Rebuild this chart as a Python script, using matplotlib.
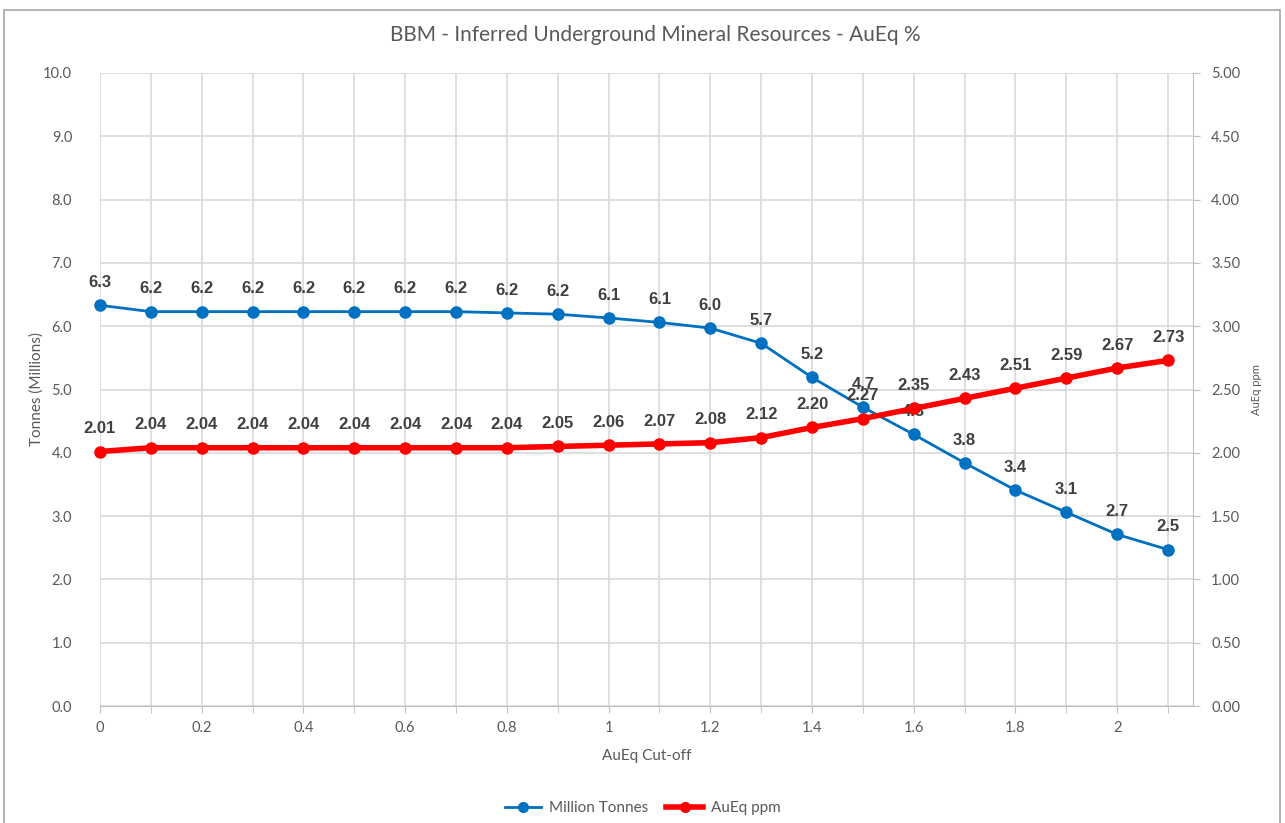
import matplotlib.pyplot as plt
from matplotlib.patches import Rectangle
from matplotlib.ticker import MultipleLocator, FormatStrFormatter
from matplotlib.lines import Line2D

# data
cutoff = [0.0, 0.1, 0.2, 0.3, 0.4, 0.5, 0.6, 0.7, 0.8, 0.9, 1.0,
          1.1, 1.2, 1.3, 1.4, 1.5, 1.6, 1.7, 1.8, 1.9, 2.0, 2.1]
million_tonnes = [6.33, 6.23, 6.23, 6.23, 6.23, 6.23, 6.23, 6.23, 6.21, 6.19, 6.13,
                  6.06, 5.97, 5.73, 5.19, 4.72, 4.29, 3.84, 3.41, 3.06, 2.71, 2.47]
aueq_ppm = [2.01, 2.04, 2.04, 2.04, 2.04, 2.04, 2.04, 2.04, 2.04, 2.05, 2.06,
            2.07, 2.08, 2.12, 2.20, 2.27, 2.35, 2.43, 2.51, 2.59, 2.67, 2.73]

blue = '#0070C0'
red = '#FF0000'
text_col = '#595959'
label_col = '#404040'
grid_col = '#D9D9D9'

plt.rcParams['font.family'] = ['Lato', 'DejaVu Sans']

fig = plt.figure(figsize=(12.85, 8.23), dpi=100)
ax = fig.add_axes([100 / 1285, 1 - 706 / 823, 1093 / 1285, 633 / 823])
ax2 = ax.twinx()

# outer chart border
fig.patches.append(Rectangle((4 / 1285, -0.01), 1276 / 1285, 1 - 10 / 823 + 0.01,
                             transform=fig.transFigure, fill=False,
                             edgecolor='#A6A6A6', linewidth=1.2))

ax.plot(cutoff, million_tonnes, color=blue, lw=2, marker='o', ms=8, zorder=3, clip_on=False)
ax2.plot(cutoff, aueq_ppm, color=red, lw=4, marker='o', ms=8, zorder=3, clip_on=False)

lbl_font = dict(ha='center', va='bottom', fontsize=12, fontweight='bold',
                color=label_col, family=['Liberation Sans', 'DejaVu Sans'])
for x, y in zip(cutoff, million_tonnes):
    ax.annotate(f'{y:.1f}', (x, y), xytext=(0, 11), textcoords='offset points', **lbl_font)
for x, y in zip(cutoff, aueq_ppm):
    ax2.annotate(f'{y:.2f}', (x, y), xytext=(0, 11), textcoords='offset points', **lbl_font)

ax.set_xlim(0, 2.149)
ax.set_ylim(0, 10)
ax2.set_ylim(0, 5)

ax.xaxis.set_minor_locator(MultipleLocator(0.1))
ax.set_xticks([0, 0.2, 0.4, 0.6, 0.8, 1, 1.2, 1.4, 1.6, 1.8, 2])
ax.set_xticklabels(['0', '0.2', '0.4', '0.6', '0.8', '1', '1.2', '1.4', '1.6', '1.8', '2'])
ax.yaxis.set_major_locator(MultipleLocator(1))
ax.yaxis.set_major_formatter(FormatStrFormatter('%.1f'))
ax2.yaxis.set_major_locator(MultipleLocator(0.5))
ax2.yaxis.set_major_formatter(FormatStrFormatter('%.2f'))

ax.grid(True, which='both', color=grid_col, lw=1.2)
ax.set_axisbelow(True)

for a in (ax, ax2):
    for s in a.spines.values():
        s.set_visible(False)
ax.spines['bottom'].set_visible(True)
ax.spines['bottom'].set_color('#BFBFBF')
ax2.spines['right'].set_visible(True)
ax2.spines['right'].set_color('#BFBFBF')

ax.tick_params(axis='x', which='both', length=5, color='#BFBFBF', labelcolor=text_col,
               labelsize=10.5, pad=6)
ax.tick_params(axis='y', length=0, labelcolor=text_col, labelsize=10.5, pad=20)
ax2.tick_params(axis='y', length=5, color='#BFBFBF', labelcolor=text_col, labelsize=10.5, pad=8)

ax.set_xlabel('AuEq Cut-off', color=text_col, fontsize=11, labelpad=10)
ax.set_ylabel('Tonnes (Millions)', color=text_col, fontsize=11, labelpad=0)
ax2.set_ylabel('AuEq ppm', color=text_col, fontsize=8, labelpad=8)

fig.text(655 / 1285, 1 - 35 / 823, 'BBM - Inferred Underground Mineral Resources - AuEq %',
         ha='center', va='center', fontsize=15, color=text_col)

handles = [Line2D([], [], color=blue, lw=2, marker='o', ms=7),
           Line2D([], [], color=red, lw=4, marker='o', ms=7)]
fig.legend(handles, ['Million Tonnes', 'AuEq ppm'], loc='center',
           bbox_to_anchor=(0.5, 1 - 808 / 823), ncol=2, frameon=False,
           fontsize=11, labelcolor=text_col, handlelength=2.4, columnspacing=1.2,
           handletextpad=0.5)

fig.savefig('out.png', dpi=100)
